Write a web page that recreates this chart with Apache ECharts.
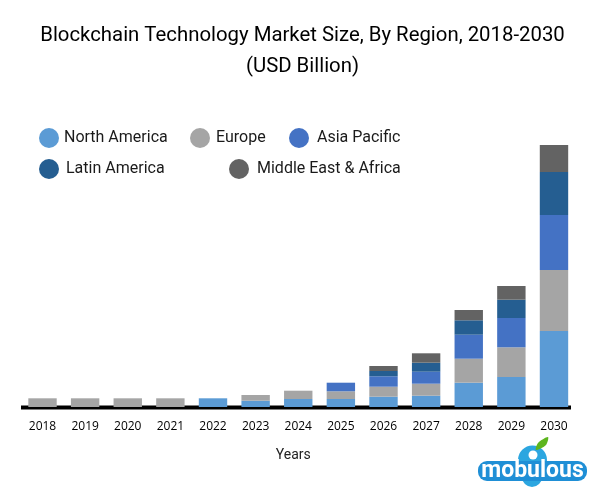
<!DOCTYPE html>
<html>
<head>
<meta charset="utf-8">
<style>
  html, body { margin: 0; padding: 0; background: #fff; }
  #chart { width: 601px; height: 501px; }
</style>
<script src="https://cdn.jsdelivr.net/npm/echarts@6/dist/echarts.min.js"></script>
</head>
<body>
<div id="chart"></div>
<script>
const years = ['2018', '2019', '2020', '2021', '2022', '2023', '2024', '2025', '2026', '2027', '2028', '2029', '2030'];

// no value axis in the picture, so these are relative readings of segment heights
const northAmerica = [0, 0, 0, 0, 0.87, 0.63, 0.8, 0.8, 1.03, 1.13, 2.43, 3.0, 7.6];
const europe = [0.87, 0.87, 0.87, 0.87, 0, 0.57, 0.83, 0.77, 1.0, 1.2, 2.4, 2.97, 6.1];
const asiaPacific = [0, 0, 0, 0, 0, 0, 0, 0.86, 1.04, 1.2, 2.4, 2.93, 5.5];
const latinAmerica = [0, 0, 0, 0, 0, 0, 0, 0, 0.53, 0.9, 1.44, 1.83, 4.3];
const middleEastAfrica = [0, 0, 0, 0, 0, 0, 0, 0, 0.5, 0.94, 1.03, 1.37, 2.7];

const chart = echarts.init(document.getElementById('chart'));

function makeBar(name, values, color) {
    return {
        name: name,
        type: 'bar',
        stack: 'total',
        barWidth: 28.4,
        z: 3,
        itemStyle: { color: color },
        data: values
    };
}

// the legend entries sit at uneven spots, so each one gets its own legend
function makeLegend(name, left, top, gap) {
    return {
        data: [name],
        left: left,
        top: top,
        padding: 0,
        selectedMode: false,
        icon: 'circle',
        itemWidth: 20,
        itemHeight: 20,
        textStyle: {
            fontFamily: 'Roboto',
            fontSize: 16,
            color: '#1a1a1a',
            padding: [2, 0, 0, gap]
        }
    };
}

chart.setOption({
    animation: false,
    backgroundColor: '#fff',
    textStyle: { fontFamily: 'Roboto' },
    title: {
        text: 'Blockchain Technology Market Size, By Region, 2018-2030\n(USD Billion)',
        left: 297.5,
        top: 15,
        textAlign: 'center',
        textStyle: {
            fontFamily: 'Roboto',
            fontSize: 20.35,
            fontWeight: 'normal',
            color: '#000',
            lineHeight: 31
        }
    },
    legend: [
        makeLegend('North America', 39, 128, 0),
        makeLegend('Europe', 190, 128, 1),
        makeLegend('Asia Pacific', 289, 128, 3),
        makeLegend('Latin America', 39, 159, 2),
        makeLegend('Middle East & Africa', 229, 159, 3)
    ],
    grid: { left: 21.2, right: 25.7, top: 145, bottom: 94 },
    xAxis: {
        type: 'category',
        data: years,
        axisLine: { show: false },
        axisTick: { show: false },
        axisLabel: {
            margin: 14,
            interval: 0,
            fontFamily: 'Open Sans',
            fontSize: 12,
            color: '#000'
        },
        name: 'Years',
        nameLocation: 'middle',
        nameGap: 41,
        nameTextStyle: {
            fontFamily: 'Roboto',
            fontSize: 14,
            color: '#222',
            padding: [0, 10, 0, 0]
        }
    },
    yAxis: { type: 'value', min: 0, max: 26.2, show: false },
    series: [
        makeBar('North America', northAmerica, '#5B9BD5'),
        makeBar('Europe', europe, '#A5A5A5'),
        makeBar('Asia Pacific', asiaPacific, '#4472C4'),
        makeBar('Latin America', latinAmerica, '#255E91'),
        makeBar('Middle East & Africa', middleEastAfrica, '#636363')
    ],
    graphic: [
        // axis rule stops short of the last category band
        { type: 'rect', z: 1, shape: { x: 21, y: 405.5, width: 550, height: 4 }, style: { fill: '#000' } },
        // logo
        { type: 'circle', z: 5, shape: { cx: 532.5, cy: 460, r: 14.5 }, style: { fill: '#2CA6E0' } },
        { type: 'circle', z: 5, shape: { cx: 532, cy: 477, r: 10 }, style: { fill: '#2CA6E0' } },
        { type: 'circle', z: 6, shape: { cx: 533, cy: 455, r: 4.5 }, style: { fill: '#fff' } },
        { type: 'polygon', z: 6, shape: { points: [[536, 450], [538, 443], [548, 437], [546, 445]], smooth: 0.3 }, style: { fill: '#5DB51E' } },
        { type: 'rect', z: 6, shape: { x: 478, y: 461, width: 109, height: 20, r: 9 }, style: { fill: '#1F8FD6' } },
        {
            type: 'text', z: 7, x: 532.5, y: 471,
            style: {
                text: 'mobulous',
                fontFamily: 'Roboto',
                fontSize: 23,
                fontWeight: 'bold',
                fill: '#fff',
                align: 'center',
                verticalAlign: 'middle'
            }
        }
    ]
});
</script>
</body>
</html>
